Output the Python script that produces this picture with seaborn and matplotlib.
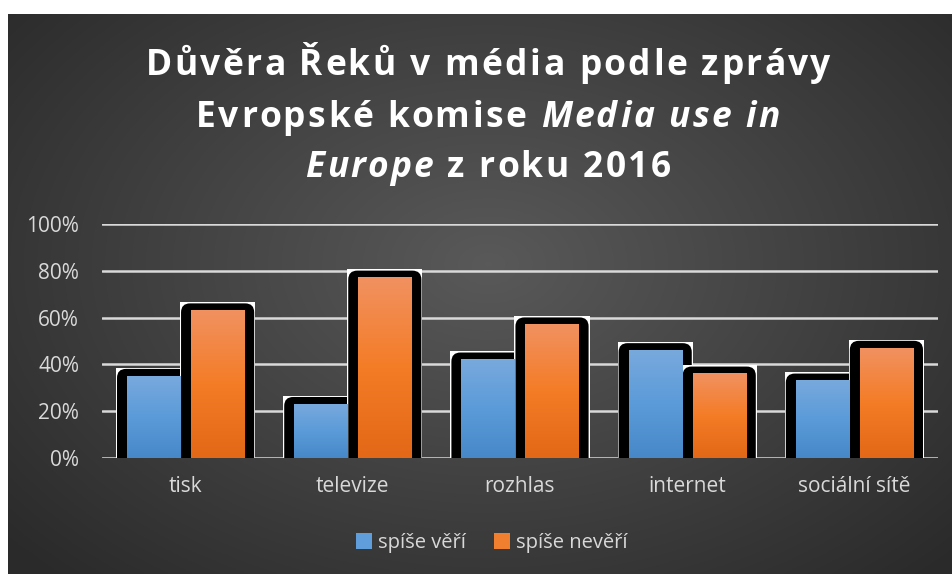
import numpy as np
import pandas as pd
import seaborn as sns
import matplotlib.pyplot as plt
from matplotlib.patches import Rectangle, FancyBboxPatch, Patch
from matplotlib.font_manager import FontProperties

categories = ["tisk", "televize", "rozhlas", "internet", "sociální sítě"]
series = ["spíše věří", "spíše nevěří"]
spise_veri = [0.35, 0.23, 0.42, 0.46, 0.33]
spise_neveri = [0.63, 0.77, 0.57, 0.36, 0.47]
y_ticks = [0, 0.2, 0.4, 0.6, 0.8, 1.0]
y_labels = ["0%", "20%", "40%", "60%", "80%", "100%"]

df = pd.DataFrame({
    "kategorie": categories * 2,
    "názor": [series[0]] * 5 + [series[1]] * 5,
    "podíl": spise_veri + spise_neveri,
})

sns.set_theme(style="dark")
plt.rcParams["font.family"] = ["Open Sans", "DejaVu Sans"]

W, H = 953, 574
fig = plt.figure(figsize=(W / 100, H / 100), dpi=100, facecolor="white")

# dark radial background with a thin white margin top/left
bg = fig.add_axes([8 / W, 0, 1 - 8 / W, 1 - 14 / H], zorder=-10)
yy, xx = np.mgrid[0:560, 0:945]
d = np.sqrt(((xx - 480) / 640) ** 2 + ((yy - 250) / 430) ** 2)
d = np.clip(d, 0, 1)
val = 0.35 - (0.35 - 0.165) * d
bg.imshow(np.dstack([val] * 3), aspect="auto", interpolation="bilinear")
bg.axis("off")

ax = fig.add_axes([102 / W, 116 / H, 836 / W, 234 / H])
ax.patch.set_alpha(0)

blue = "#5b9bd5"
orange = "#ed7d31"
sns.barplot(data=df, x="kategorie", y="podíl", hue="názor", order=categories,
            hue_order=series, palette=[blue, orange], width=0.766, gap=0.17,
            saturation=1, legend=False, ax=ax)
ax.set_xlim(-0.5, 4.5)
ax.set_ylim(0, 1)

ux = 5 / 836
uy = 1 / 234

grad_blue = np.array([[0x47, 0x88, 0xc9], [0x5b, 0x9b, 0xd9], [0x78, 0xa9, 0xdd]]) / 255
grad_orange = np.array([[0xe3, 0x68, 0x17], [0xf4, 0x7c, 0x26], [0xf1, 0x91, 0x60]]) / 255


def gradient(stops, n=64):
    t = np.linspace(0, 1, n)
    out = np.zeros((n, 1, 3))
    for c in range(3):
        out[:, 0, c] = np.interp(t, [0, 0.5, 1], stops[:, c])
    return out


for i, p in enumerate(list(ax.patches)):
    x0, w, h = p.get_x(), p.get_width(), p.get_height()
    is_blue = i < len(categories)
    z = 2.0 if is_blue else 2.2
    ax.add_patch(Rectangle((x0 - 11 * ux, -0.1), w + 22 * ux, h + 0.1 + 8.5 * uy,
                           facecolor="white", lw=0, zorder=z))
    ax.add_patch(FancyBboxPatch((x0 - 10 * ux, -0.1), w + 20 * ux, h + 0.1 + 7.2 * uy,
                                boxstyle=f"round,pad=0,rounding_size={9 * ux}",
                                mutation_aspect=uy / ux, facecolor="black", lw=0,
                                zorder=z + 0.05))
    ax.imshow(gradient(grad_blue if is_blue else grad_orange),
              extent=[x0, x0 + w, 0, h], origin="lower", aspect="auto",
              interpolation="bilinear", zorder=3)
    p.set_facecolor("none")
    p.set_linewidth(0)

ax.set_xlim(-0.5, 4.5)
ax.set_ylim(0, 1)
ax.set_aspect("auto")

ax.set_yticks(y_ticks)
ax.set_yticklabels(y_labels)
ax.grid(axis="y", color="#d9d9d9", lw=1.8)
ax.grid(axis="x", visible=False)
ax.set_axisbelow(True)
for s in ax.spines.values():
    s.set_visible(False)
ax.tick_params(axis="y", length=0, pad=16.5, labelsize=15, labelcolor="#d9d9d9")
ax.tick_params(axis="x", length=0, pad=13, labelsize=15, labelcolor="#d9d9d9")
ax.set_xlabel("")
ax.set_ylabel("")

# title: letter-spaced, with italic parts
renderer = fig.canvas.get_renderer()
TSIZE = 25.5
TRACK = 2.5


def text_w(s, style):
    prop = FontProperties(family=["Open Sans", "DejaVu Sans"], size=TSIZE,
                          weight="bold", style=style)
    wx = renderer.get_text_width_height_descent(s + "x", prop, ismath=False)[0]
    w0 = renderer.get_text_width_height_descent("x", prop, ismath=False)[0]
    return wx - w0


def title_line(parts, base_px, cx_px=488):
    chars = []
    for s, st in parts:
        for k, ch in enumerate(s):
            chars.append((ch, st, text_w(s[:k], st), s, k))
    total = 0
    offsets = []
    part_start = 0
    n = 0
    for s, st in parts:
        for k in range(len(s)):
            offsets.append(part_start + text_w(s[:k], st) + n * TRACK)
            n += 1
        part_start += text_w(s, st)
    total = part_start + (n - 1) * TRACK
    x_start = cx_px - total / 2
    i = 0
    for s, st in parts:
        for ch in s:
            fig.text((x_start + offsets[i]) / W, 1 - base_px / H, ch, fontsize=TSIZE,
                     fontweight="bold", style=st, color="white", va="baseline")
            i += 1


title_line([("Důvěra Řeků v média podle zprávy", "normal")], 75)
title_line([("Evropské komise ", "normal"), ("Media use in", "italic")], 127)
title_line([("Europe", "italic"), (" z roku 2016", "normal")], 177)

handles = [Patch(facecolor="#5f9ddb", edgecolor="none"),
           Patch(facecolor="#f07f30", edgecolor="none")]
fig.legend(handles, series, loc="center", bbox_to_anchor=(492 / W, 1 - 543 / H),
           ncol=2, frameon=False, fontsize=14.5, labelcolor="#d9d9d9",
           handlelength=0.8, handleheight=0.8, handletextpad=0.3, columnspacing=1.4)

fig.savefig("out.png", dpi=100, facecolor="white")
